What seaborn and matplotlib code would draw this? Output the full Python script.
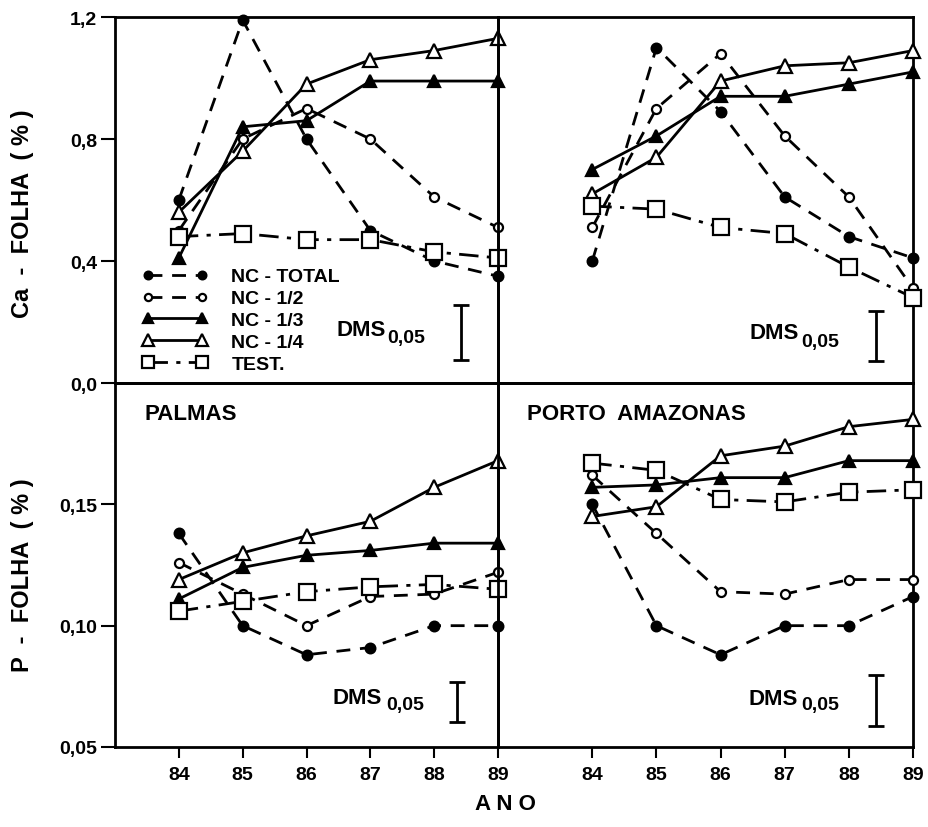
import matplotlib
matplotlib.use("Agg")
import matplotlib.pyplot as plt
import seaborn as sns
import pandas as pd

# ---------------- data ----------------
years = [84, 85, 86, 87, 88, 89]
series_labels = ["NC - TOTAL", "NC - 1/2", "NC - 1/3", "NC - 1/4", "TEST."]

ca_palmas_total = [0.60, 1.19, 0.80, 0.50, 0.40, 0.35]
ca_palmas_half = [0.50, 0.80, 0.90, 0.80, 0.61, 0.51]
ca_palmas_third = [0.41, 0.84, 0.86, 0.99, 0.99, 0.99]
ca_palmas_quarter = [0.56, 0.76, 0.98, 1.06, 1.09, 1.13]
ca_palmas_test = [0.48, 0.49, 0.47, 0.47, 0.43, 0.41]

ca_porto_total = [0.40, 1.10, 0.89, 0.61, 0.48, 0.41]
ca_porto_half = [0.51, 0.90, 1.08, 0.81, 0.61, 0.31]
ca_porto_third = [0.70, 0.81, 0.94, 0.94, 0.98, 1.02]
ca_porto_quarter = [0.62, 0.74, 0.99, 1.04, 1.05, 1.09]
ca_porto_test = [0.58, 0.57, 0.51, 0.49, 0.38, 0.28]

p_palmas_total = [0.138, 0.100, 0.088, 0.091, 0.100, 0.100]
p_palmas_half = [0.126, 0.113, 0.100, 0.112, 0.113, 0.122]
p_palmas_third = [0.111, 0.124, 0.129, 0.131, 0.134, 0.134]
p_palmas_quarter = [0.119, 0.130, 0.137, 0.143, 0.157, 0.168]
p_palmas_test = [0.106, 0.110, 0.114, 0.116, 0.117, 0.115]

p_porto_total = [0.150, 0.100, 0.088, 0.100, 0.100, 0.112]
p_porto_half = [0.162, 0.138, 0.114, 0.113, 0.119, 0.119]
p_porto_third = [0.157, 0.158, 0.161, 0.161, 0.168, 0.168]
p_porto_quarter = [0.145, 0.149, 0.170, 0.174, 0.182, 0.185]
p_porto_test = [0.167, 0.164, 0.152, 0.151, 0.155, 0.156]

# DMS 0,05 bars (center, half length) for TL, TR, BL, BR
dms_center = [0.165, 0.154, 0.0685, 0.069]
dms_half = [0.090, 0.082, 0.0082, 0.0105]
dms_x = [88.42, 88.42, 88.36, 88.42]

ca_ticks = [0.0, 0.4, 0.8, 1.2]
ca_ticklabels = ["0,0", "0,4", "0,8", "1,2"]
p_ticks = [0.05, 0.10, 0.15]
p_ticklabels = ["0,05", "0,10", "0,15"]
year_ticklabels = ["84", "85", "86", "87", "88", "89"]

# ---------------- style ----------------
sns.set_style("ticks")
plt.rcParams["font.family"] = ["Liberation Sans", "DejaVu Sans"]
plt.rcParams["font.weight"] = "bold"
plt.rcParams["text.color"] = "black"
plt.rcParams["xtick.color"] = "black"
plt.rcParams["ytick.color"] = "black"
plt.rcParams["axes.labelcolor"] = "black"

styles = [
    dict(marker="o", markersize=7, markerfacecolor="black", linestyle=(0, (5, 3.5))),
    dict(marker="o", markersize=6.5, markerfacecolor="white", linestyle=(0, (5, 3.5))),
    dict(marker="^", markersize=9, markerfacecolor="black", linestyle="-"),
    dict(marker="^", markersize=10, markerfacecolor="white", linestyle="-"),
    dict(marker="s", markersize=11, markerfacecolor="white", linestyle=(0, (7, 3, 1.5, 3))),
]

W, H = 929, 828
fig = plt.figure(figsize=(W / 100, H / 100), dpi=100)

def rect(x0, x1, y0, y1):
    return [x0 / W, 1 - y1 / H, (x1 - x0) / W, (y1 - y0) / H]

ax_tl = fig.add_axes(rect(115, 498, 18, 384))
ax_tr = fig.add_axes(rect(498, 913, 18, 384))
ax_bl = fig.add_axes(rect(115, 498, 384, 748))
ax_br = fig.add_axes(rect(498, 913, 384, 748))
for ax in (ax_tl, ax_tr, ax_bl, ax_br):
    ax.patch.set_visible(False)

panels = [
    (ax_tl, [ca_palmas_total, ca_palmas_half, ca_palmas_third, ca_palmas_quarter, ca_palmas_test]),
    (ax_tr, [ca_porto_total, ca_porto_half, ca_porto_third, ca_porto_quarter, ca_porto_test]),
    (ax_bl, [p_palmas_total, p_palmas_half, p_palmas_third, p_palmas_quarter, p_palmas_test]),
    (ax_br, [p_porto_total, p_porto_half, p_porto_third, p_porto_quarter, p_porto_test]),
]

for i, (ax, series) in enumerate(panels):
    for lbl, vals, st in zip(series_labels, series, styles):
        df = pd.DataFrame({"ano": years, "valor": vals})
        sns.lineplot(data=df, x="ano", y="valor", ax=ax, color="black",
                     linewidth=2.0, markeredgecolor="black", markeredgewidth=1.6,
                     label=lbl, legend=False, zorder=3, clip_on=False, **st)
    ax.errorbar([dms_x[i]], [dms_center[i]], yerr=[dms_half[i]], fmt="none",
                ecolor="black", elinewidth=2, capsize=6, capthick=2)
    for sp in ax.spines.values():
        sp.set_visible(True)
        sp.set_linewidth(2)
        sp.set_color("black")
    ax.set_xlabel("")
    ax.set_ylabel("")

ax_tl.set_xlim(83.0, 89.0)
ax_bl.set_xlim(83.0, 89.0)
ax_tr.set_xlim(82.53, 89.0)
ax_br.set_xlim(82.53, 89.0)
for ax in (ax_tl, ax_tr):
    ax.set_ylim(0.0, 1.2)
for ax in (ax_bl, ax_br):
    ax.set_ylim(0.05, 0.20)

# ticks
for ax in (ax_tl, ax_tr):
    ax.set_xticks([])
for ax in (ax_tr, ax_br):
    ax.set_yticks([])
for ax in (ax_bl, ax_br):
    ax.set_xticks(years)
    ax.set_xticklabels(year_ticklabels, fontsize=14, fontweight="bold")
    ax.tick_params(axis="x", direction="out", length=8, width=1.5, pad=6)
ax_tl.set_yticks(ca_ticks)
ax_tl.set_yticklabels(ca_ticklabels, fontsize=14, fontweight="bold")
ax_bl.set_yticks(p_ticks)
ax_bl.set_yticklabels(p_ticklabels, fontsize=14, fontweight="bold")
for ax in (ax_tl, ax_bl):
    ax.tick_params(axis="y", direction="out", length=10, width=1.5, pad=3)

# DMS texts
dms_pos = [(86.47, 0.177, 87.27, 0.150, ax_tl), (86.45, 0.164, 87.25, 0.137, ax_tr),
           (86.41, 0.0706, 87.25, 0.0677, ax_bl), (86.43, 0.0698, 87.25, 0.0675, ax_br)]
for x1, y1, x2, y2, ax in dms_pos:
    ax.text(x1, y1, "DMS", fontsize=16, fontweight="bold", ha="left", va="center")
    ax.text(x2, y2, "0,05", fontsize=14, fontweight="bold", ha="left", va="center")

# site labels
ax_bl.text(0.078, 0.915, "PALMAS", transform=ax_bl.transAxes, fontsize=16,
           fontweight="bold", ha="left", va="center")
ax_br.text(0.07, 0.915, "PORTO  AMAZONAS", transform=ax_br.transAxes, fontsize=16,
           fontweight="bold", ha="left", va="center")

# legend
handles = [ln for ln in ax_tl.get_lines() if ln.get_label() in series_labels]
leg = ax_tl.legend(handles, series_labels, loc="lower left", bbox_to_anchor=(0.035, -0.01),
                   frameon=False, handlelength=3.4, numpoints=2, labelspacing=0.22,
                   markerscale=0.8, handletextpad=1.2, borderpad=0.2,
                   prop={"size": 14, "weight": "bold"})

# axis labels
fig.text(0.0237, 0.7415, "Ca  -  FOLHA  ( % )", rotation=90, fontsize=17,
         fontweight="bold", ha="center", va="center")
fig.text(0.0237, 0.305, "P  -  FOLHA  ( % )", rotation=90, fontsize=17,
         fontweight="bold", ha="center", va="center")
fig.text(0.5436, 0.028, "A N O", fontsize=16, fontweight="bold", ha="center", va="center")

fig.savefig("out.png", dpi=100, facecolor="white")
